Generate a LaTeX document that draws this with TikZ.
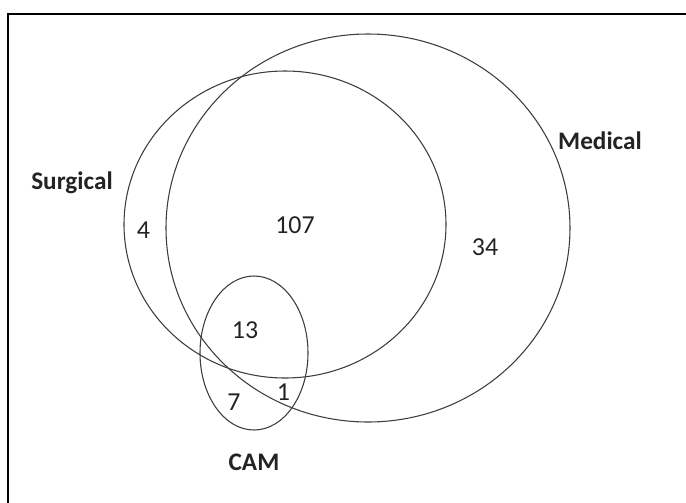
\documentclass[tikz,border=0pt]{standalone}
\usepackage{fontspec}
\setmainfont{Carlito}
\usepackage{tikz}
\usetikzlibrary{positioning}
\definecolor{venngray}{RGB}{60, 60, 60}
\definecolor{labelink}{RGB}{35, 35, 35}

\begin{document}
\begin{tikzpicture}[
  x=0.02646cm, y=-0.02646cm,
  setline/.style={draw=venngray, line width=0.8pt},
  count/.style={text=labelink, font=\fontsize{19.5}{22}\selectfont, inner sep=0pt},
  setname/.style={text=labelink, font=\fontsize{19}{22}\selectfont\bfseries, inner sep=0pt}
]
  \useasboundingbox (0,0) rectangle (686,502);
  \clip (0,0) rectangle (686,502);
  \draw[black, line width=1.3pt] (8,14) rectangle (720,540);

  % the three sets
  \draw[setline] (368,228) ellipse [x radius=202, y radius=194];
  \draw[setline] (285,224.5) ellipse [x radius=161, y radius=153.5];
  \draw[setline] (254,353) ellipse [x radius=54, y radius=77];

  % set names
  \node[setname] (surgical) at (72,183) {Surgical};
  \node[setname] (medical) at (600,141) {Medical};
  \node[setname] (cam) at (254,462) {CAM};

  % counts
  \node[count] (onlysurg) at (143.5,230) {4};
  \node[count] (surgmed) at (295,225) {107};
  \node[count] (onlymed) at (485,247) {34};
  \node[count] (allthree) at (245,330) {13};
  \node[count] (surgcam) at (234,402) {7};
  \node[count] (medcam) at (283.5,392) {1};
\end{tikzpicture}
\end{document}
